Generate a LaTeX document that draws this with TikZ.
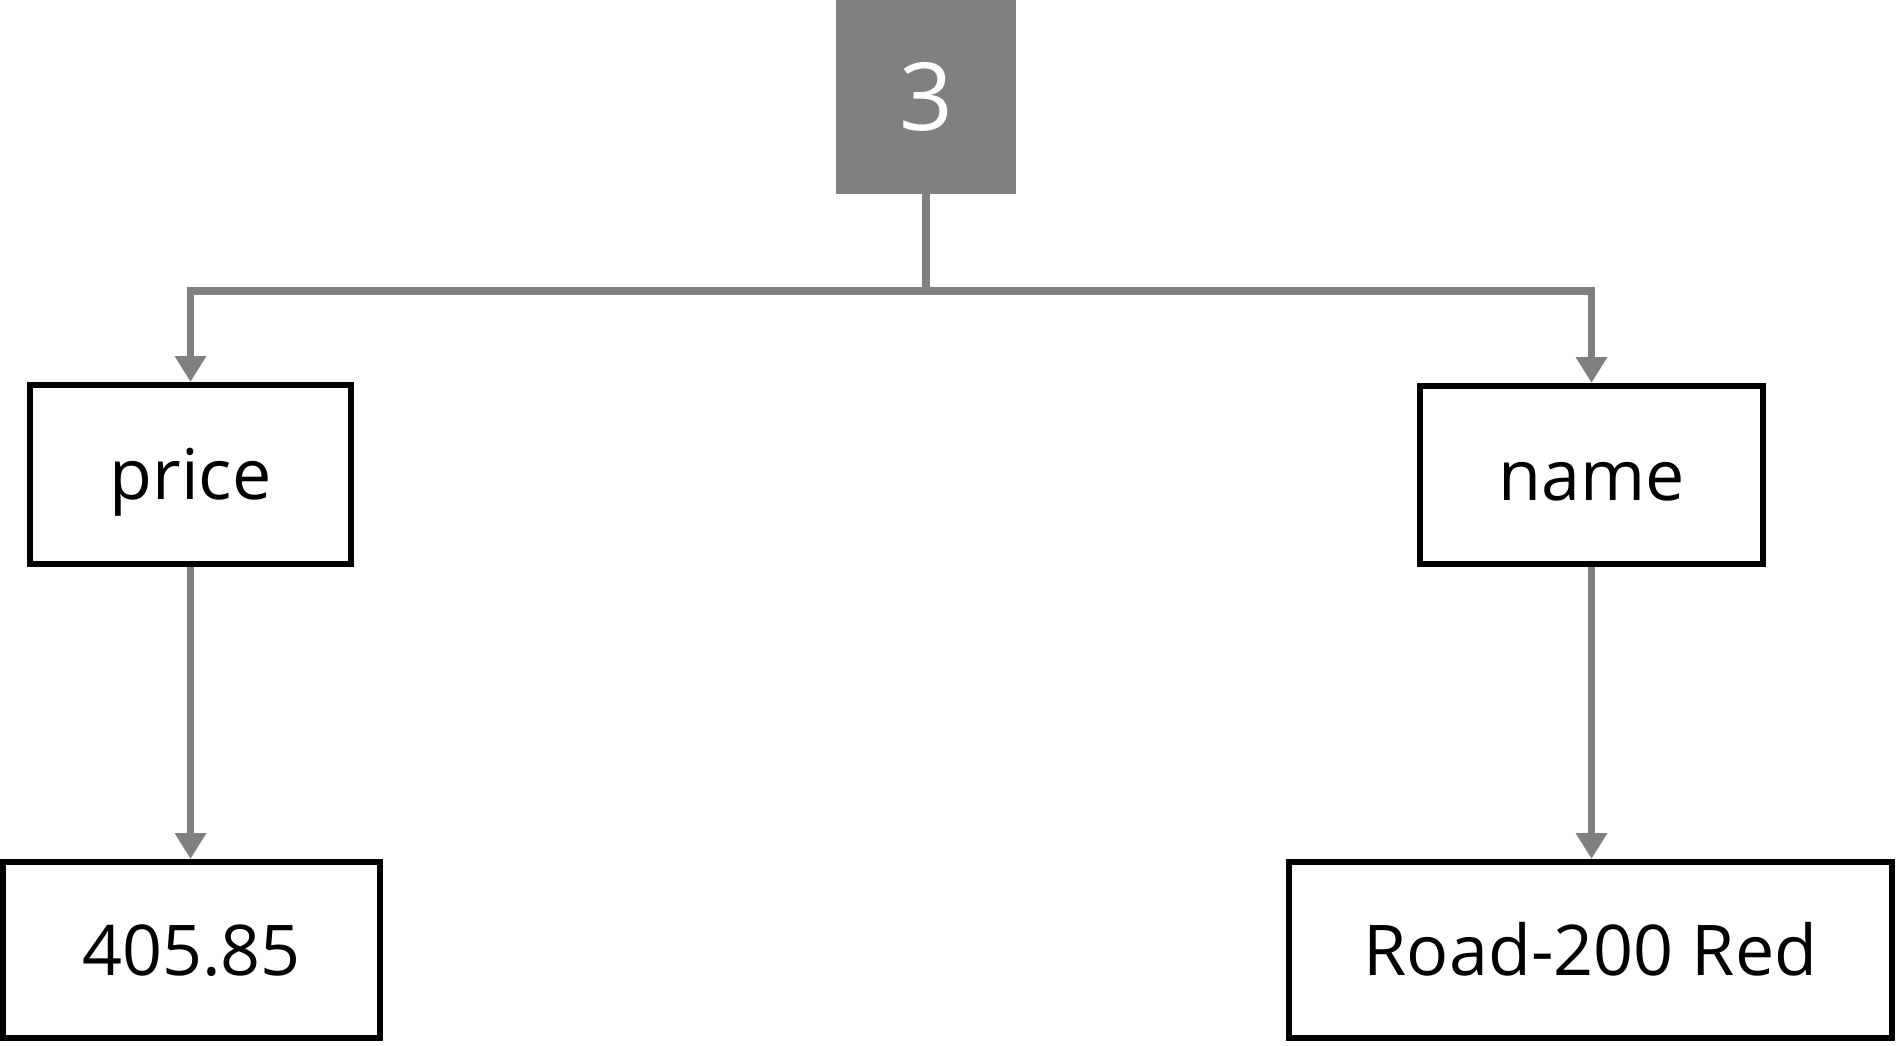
\documentclass[tikz,border=0pt]{standalone}
\usepackage{fontspec}
\setmainfont{Open Sans}
\usetikzlibrary{arrows.meta, positioning}
\definecolor{linegray}{RGB}{128,128,128}

\begin{document}
\begin{tikzpicture}[x=0.5pt, y=-0.5pt,
    box/.style={draw=black, line width=3pt, inner sep=0pt, text height=25pt, text depth=0pt,
                font=\fontsize{35}{40}\selectfont},
    conn/.style={draw=linegray, line width=3.8pt},
    arr/.style={conn, -{Triangle[width=15pt,length=13pt]}}]
\useasboundingbox (0,0) rectangle (1899,1045);
% Raiz
\node[fill=linegray, inner sep=0pt, minimum width=90pt, minimum height=97pt,
      text height=33.5pt, text depth=0pt,
      text=white, font=\fontsize{47}{52}\selectfont] (root) at (926,97) {3};
% Claves
\node[box, minimum width=160.5pt, minimum height=89.5pt] (price) at (190.5,474.5) {price};
\node[box, minimum width=171.5pt, minimum height=89pt] (name) at (1591.5,475) {name};
% Valores
\node[box, minimum width=188.5pt, minimum height=88pt] (priceval) at (191.5,950) {405.85};
\node[box, minimum width=301.5pt, minimum height=88pt] (nameval) at (1590.5,950) {Road-200 Red};
% Conexiones
\coordinate (fork) at (926,291);
\draw[conn] (root.south) -- (fork);
\draw[arr] (fork) -| (price.north);
\draw[arr] (fork) -| (name.north);
\draw[arr] (price.south) -- (price.south |- priceval.north);
\draw[arr] (name.south) -- (name.south |- nameval.north);
\end{tikzpicture}
\end{document}
